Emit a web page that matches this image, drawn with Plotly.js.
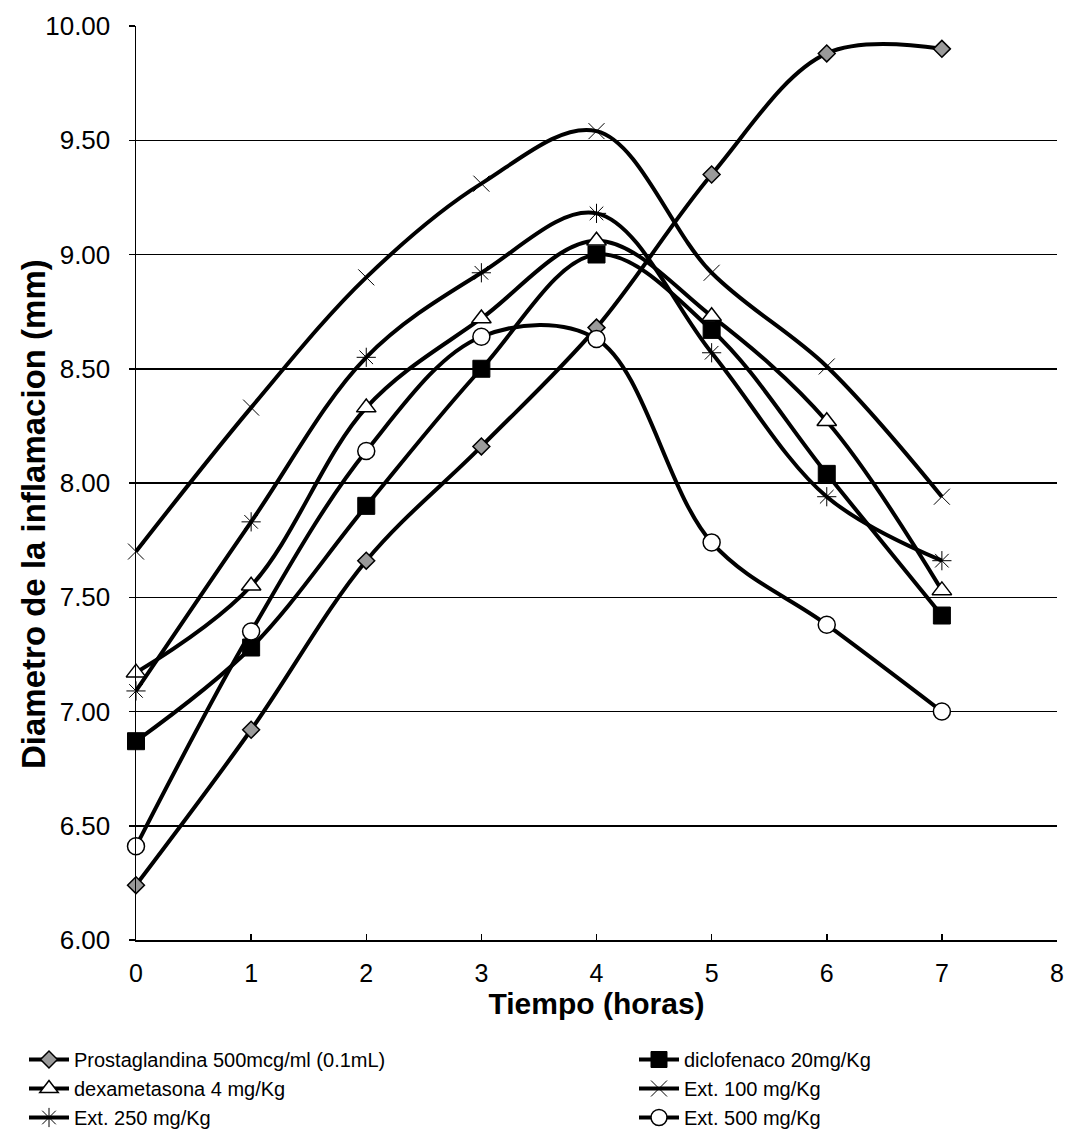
<!DOCTYPE html>
<html>
<head>
<meta charset="utf-8">
<script src="https://cdn.plot.ly/plotly-3.0.1.min.js"></script>
<style>html,body{margin:0;padding:0;background:#fff;}#chart{width:1068px;height:1144px;}</style>
</head>
<body>
<div id="chart"></div>
<script>
const hours = [0, 1, 2, 3, 4, 5, 6, 7];
const prostaglandina = [6.24, 6.92, 7.66, 8.16, 8.68, 9.35, 9.88, 9.90];
const diclofenaco = [6.87, 7.28, 7.90, 8.50, 9.00, 8.67, 8.04, 7.42];
const dexametasona = [7.17, 7.55, 8.33, 8.72, 9.06, 8.73, 8.27, 7.53];
const ext100 = [7.70, 8.33, 8.90, 9.31, 9.54, 8.92, 8.51, 7.94];
const ext250 = [7.09, 7.83, 8.55, 8.92, 9.18, 8.57, 7.94, 7.66];
const ext500 = [6.41, 7.35, 8.14, 8.64, 8.63, 7.74, 7.38, 7.00];
const seriesNames = ["Prostaglandina 500mcg/ml (0.1mL)", "diclofenaco 20mg/Kg", "dexametasona 4 mg/Kg", "Ext. 100 mg/Kg", "Ext. 250 mg/Kg", "Ext. 500 mg/Kg"];
const yTicks = [6.0, 6.5, 7.0, 7.5, 8.0, 8.5, 9.0, 9.5, 10.0];
const xTicks = [0, 1, 2, 3, 4, 5, 6, 7, 8];
const xTitle = "Tiempo (horas)";
const yTitle = "Diametro de la inflamacion (mm)";

const line = {color: "#000", width: 4, shape: "spline", smoothing: 1};
function tr(y, name, marker, legend) {
  return {x: hours, y: y, name: name, type: "scatter", mode: "lines+markers", line: line, marker: marker, cliponaxis: false, legend: legend};
}
const data = [
  tr(prostaglandina, seriesNames[0], {symbol: "diamond", size: 13, color: "#9a9a9a", line: {color: "#000", width: 1.5}}, "legend"),
  tr(diclofenaco, seriesNames[1], {symbol: "square", size: 17, color: "#000", line: {color: "#000", width: 1}}, "legend2"),
  tr(dexametasona, seriesNames[2], {symbol: "triangle-up", size: 17, color: "#fff", line: {color: "#000", width: 1.5}}, "legend"),
  tr(ext100, seriesNames[3], {symbol: "x-thin", size: 16, color: "#000", line: {color: "#000", width: 1}}, "legend2"),
  tr(ext250, seriesNames[4], {symbol: "asterisk", size: 16, color: "#000", line: {color: "#000", width: 1}}, "legend"),
  tr(ext500, seriesNames[5], {symbol: "circle", size: 17, color: "#fff", line: {color: "#000", width: 1.5}}, "legend2")
];

const legendFont = {family: "Liberation Sans, Arial, sans-serif", size: 20, color: "#000"};
const legendBase = {
  orientation: "v", xref: "container", yref: "container", xanchor: "left",
  y: 1 - 1040 / 1144, yanchor: "top",
  itemwidth: 40, tracegroupgap: 0, font: legendFont, bgcolor: "rgba(0,0,0,0)", borderwidth: 0
};

const layout = {
  width: 1068, height: 1144,
  margin: {l: 136, r: 11, t: 26, b: 204, autoexpand: false},
  paper_bgcolor: "#fff", plot_bgcolor: "#fff",
  font: {family: "Liberation Sans, Arial, sans-serif", color: "#000", size: 19},
  showlegend: true,
  xaxis: {
    range: [0, 8], tickvals: xTicks, ticktext: xTicks.map(String),
    showgrid: false, zeroline: false, showline: true, linecolor: "#000", linewidth: 1.5,
    ticks: "inside", ticklen: 6, tickcolor: "#000", tickwidth: 1.5,
    tickfont: {size: 25}, ticklabelstandoff: 10,
    automargin: false,
    title: {text: "<b>" + xTitle + "</b>", font: {size: 30}, standoff: 1}
  },
  yaxis: {
    range: [6, 10], tickvals: yTicks, ticktext: yTicks.map(v => v.toFixed(2)),
    showgrid: true, gridcolor: "#000", gridwidth: 1.5, zeroline: false,
    showline: true, linecolor: "#000", linewidth: 1.5,
    ticks: "outside", ticklen: 6, tickcolor: "#000", tickwidth: 1.5,
    tickfont: {size: 26}, ticklabelstandoff: 13,
    automargin: false
  },
  annotations: [{
    text: "<b>" + yTitle + "</b>", textangle: -90,
    xref: "paper", yref: "paper", x: (33 - 136) / 921, y: (940 - 514) / 914,
    xanchor: "center", yanchor: "middle", showarrow: false,
    font: {size: 33, color: "#000", family: "Liberation Sans, Arial, sans-serif"}
  }],
  legend: Object.assign({}, legendBase, {x: 24 / 1068}),
  legend2: Object.assign({}, legendBase, {x: 634 / 1068})
};

Plotly.newPlot("chart", data, layout, {displayModeBar: false, staticPlot: true});
</script>
</body>
</html>
